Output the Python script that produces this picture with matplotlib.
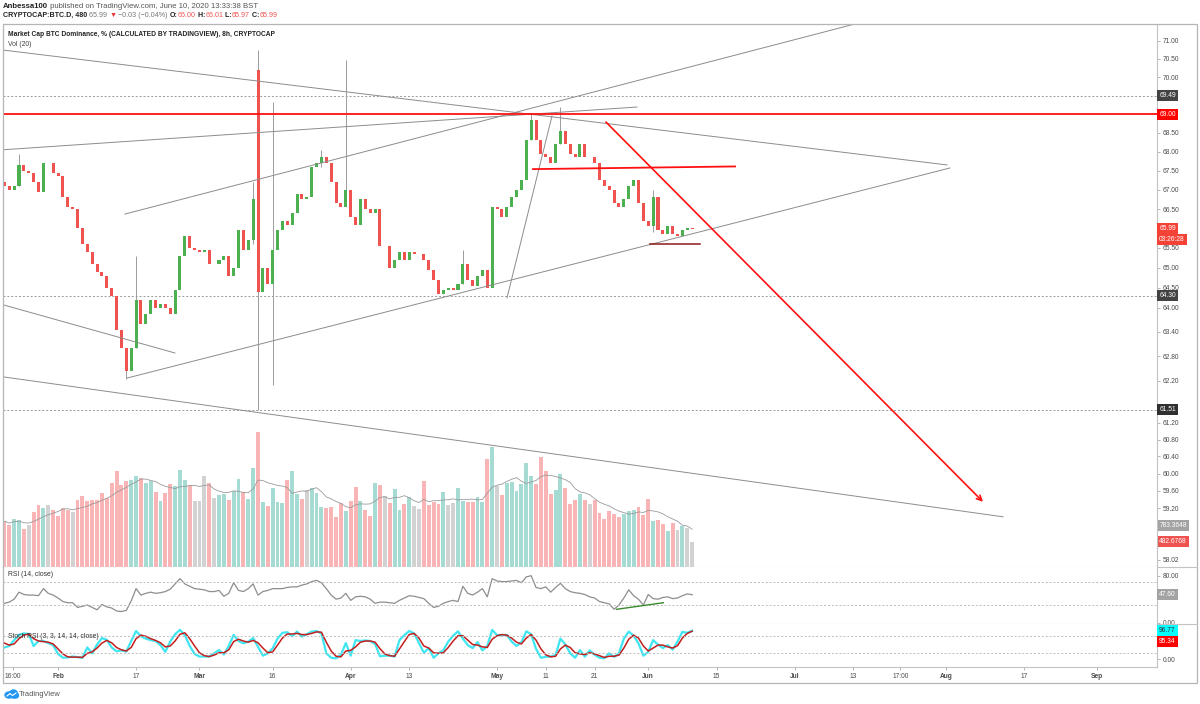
import numpy as np
import pandas as pd
import matplotlib
matplotlib.use('Agg')
import matplotlib.pyplot as plt
from matplotlib.lines import Line2D
from matplotlib.patches import Rectangle, Ellipse
from matplotlib.offsetbox import TextArea, HPacker, AnchoredOffsetbox
from matplotlib.ticker import FixedLocator, FixedFormatter, NullLocator

plt.rcParams['font.family'] = ['Liberation Sans', 'DejaVu Sans']

# ---- data (day index = days since 1 Jan 2020, one value per day from 21 Jan) ----
first_day = 20
first_open = 67.2
closes = [67.1, 67.0, 67.1, 67.65, 67.5, 67.45, 67.2, 66.95, 67.7, 67.7,
          67.45, 67.35, 66.8, 66.55, 66.5, 66.0, 65.6, 65.4, 65.1, 64.9,
          64.8, 64.5, 64.3, 63.45, 63.0, 62.45, 63.0, 64.2, 63.6, 63.85,
          64.2, 64.0, 64.1, 64.0, 63.85, 64.45, 65.3, 65.8, 65.5, 65.45,
          65.4, 65.45, 65.1, 65.1, 65.2, 65.3, 64.8, 65.0, 65.95, 65.45,
          65.7, 66.75, 64.4, 65.0, 64.6, 65.45, 65.95, 66.2, 66.1, 66.4,
          66.9, 66.75, 66.8, 67.6, 67.7, 67.85, 67.7, 67.2, 66.65, 66.55,
          67.0, 66.3, 66.1, 66.75, 66.5, 66.4, 66.5, 65.55, 65.55, 65.0,
          65.2, 65.4, 65.2, 65.4, 65.35, 65.35, 65.2, 64.95, 64.7, 64.35,
          64.45, 64.5, 64.45, 64.6, 65.1, 64.7, 64.55, 64.8, 64.95, 64.5,
          66.55, 66.5, 66.3, 66.55, 66.8, 67.0, 67.25, 68.3, 68.85, 68.3,
          67.95, 67.85, 67.7, 68.2, 68.55, 68.2, 67.95, 67.85, 68.2, 67.85,
          67.85, 67.7, 67.25, 67.1, 67.0, 66.65, 66.55, 66.75, 67.1, 67.25,
          66.65, 66.2, 66.05, 66.8, 65.95, 65.85, 66.05, 65.85, 65.8, 65.95,
          66.0, 65.99]
glitch_day, glitch_open = 72, 70.2

wick_day = [23, 45, 47, 71, 72, 75, 85, 90, 114, 128, 134, 153]
wick_hi = [67.95, 62.9, 65.3, 67.2, 70.74, 69.33, 68.05, 70.47, 65.45, 69.0, 69.19, 67.0]
wick_lo = [67.1, 62.25, 63.0, 65.6, 61.51, 62.1, 67.6, 66.9, 64.6, 68.3, 68.2, 65.9]

volume = [868, 804, 912, 899, 722, 804, 1039, 1184, 1121, 1184,
          1089, 963, 1121, 1089, 1039, 1279, 1343, 1248, 1279, 1279,
          1406, 1311, 1596, 1818, 1564, 1628, 1659, 1735, 1691, 1596,
          1640, 1419, 1248, 1406, 1583, 1533, 1849, 1659, 1564, 1260,
          1260, 1723, 1596, 1311, 1374, 1387, 1279, 1450, 1678, 1419,
          1292, 1881, 2559, 1229, 1153, 1501, 1229, 1216, 1659, 1818,
          1393, 1298, 1469, 1501, 1406, 1134, 1121, 1134, 944, 1216,
          1070, 1260, 1520, 1260, 1089, 975, 1596, 1552, 1355, 1216,
          1482, 1089, 1197, 1324, 1153, 1108, 1640, 1172, 1229, 1197,
          1419, 1184, 1216, 1501, 1248, 1229, 1229, 1324, 1229, 2058,
          2280, 1533, 1362, 1596, 1609, 1450, 1583, 1976, 1723, 1577,
          2090, 1830, 1387, 1457, 1773, 1501, 1203, 1279, 1387, 1267,
          1197, 1267, 1026, 918, 1058, 1013, 950, 1013, 1070, 1089,
          1134, 982, 1298, 868, 887, 817, 690, 836, 697, 773,
          740, 482]

rsi = [33, 35, 40, 52, 48, 47, 47, 46, 58, 50,
       47, 42, 36, 34, 34, 26, 28, 30, 26, 22,
       31, 27, 25, 20, 19, 21, 37, 58, 47, 50,
       52, 50, 51, 53, 57, 66, 75, 66, 62, 58,
       57, 56, 53, 53, 55, 45, 50, 68, 55, 53,
       58, 66, 47, 53, 55, 58, 58, 58, 60, 61,
       61, 64, 66, 70, 72, 68, 58, 47, 40, 42,
       50, 38, 44, 45, 44, 40, 33, 35, 35, 34,
       33, 38, 42, 46, 45, 43, 41, 33, 26, 28,
       33, 36, 38, 36, 62, 50, 47, 52, 58, 44,
       75, 71, 70, 70, 71, 72, 68, 78, 80, 60,
       58, 61, 52, 60, 67, 58, 53, 51, 50, 48,
       44, 42, 36, 34, 32, 23, 30, 42, 56, 46,
       40, 30, 48, 41, 40, 43, 44, 41, 42, 46,
       49, 47.6]

stoch_k = [40, 45, 65, 83, 88, 86, 45, 62, 62, 55,
           48, 18, 5, 6, 9, 7, 5, 40, 20, 50,
           72, 66, 40, 27, 30, 26, 62, 96, 78, 70,
           65, 62, 48, 25, 60, 85, 100, 82, 45, 18,
           9, 9, 9, 20, 31, 16, 45, 83, 62, 54,
           60, 72, 42, 12, 20, 37, 70, 90, 92, 78,
           94, 77, 85, 94, 96, 88, 20, 5, 3, 15,
           55, 12, 65, 62, 64, 62, 52, 10, 12, 12,
           9, 65, 82, 96, 88, 55, 22, 38, 5, 20,
           31, 60, 80, 95, 70, 48, 38, 58, 30, 45,
           100, 82, 82, 83, 60, 45, 58, 95, 85, 35,
           5, 8, 9, 14, 70, 50, 20, 5, 31, 9,
           30, 15, 5, 3, 20, 8, 20, 70, 94, 80,
           54, 12, 25, 65, 50, 38, 48, 33, 60, 93,
           90, 96.77]

stoch_d = [55, 48, 52, 70, 82, 86, 70, 62, 60, 58,
           52, 35, 18, 8, 7, 7, 6, 20, 25, 38,
           55, 64, 56, 40, 32, 28, 40, 70, 82, 78,
           70, 64, 56, 42, 45, 62, 85, 90, 70, 45,
           22, 12, 9, 14, 22, 22, 32, 60, 68, 62,
           58, 64, 56, 38, 22, 25, 48, 72, 86, 86,
           88, 84, 84, 88, 93, 92, 58, 28, 10, 8,
           28, 30, 42, 58, 62, 62, 58, 36, 18, 12,
           10, 35, 60, 84, 88, 72, 45, 38, 22, 20,
           22, 40, 62, 80, 80, 65, 50, 48, 42, 40,
           68, 80, 84, 82, 72, 58, 52, 72, 84, 65,
           35, 15, 8, 10, 35, 48, 40, 22, 18, 16,
           22, 18, 12, 6, 10, 10, 14, 38, 68, 82,
           72, 45, 28, 38, 48, 48, 42, 38, 46, 72,
           88, 95.34]

# drawings (day, price)
gray_lines = [((19.72, 70.74), (213.24, 67.65)),
              ((45.14, 62.27), (213.86, 67.57)),
              ((44.73, 66.37), (197.46, 71.57)),
              ((19.72, 68.05), (149.69, 69.19)),
              ((19.72, 64.07), (54.98, 62.88)),
              ((19.72, 62.30), (224.73, 59.00)),
              ((123.04, 64.24), (132.27, 68.95))]
red_level = 69.00
red_segment = ((128.38, 67.54), (169.8, 67.61))
dark_segment = ((152.36, 65.60), (162.6, 65.60))
red_arrow = ((142.93, 68.84), (221.03, 59.30))
dotted_levels = [69.49, 64.30, 61.51]
rsi_divergence = ((145.5, 22.8), (155.1, 34.0))

price_ticks = [58.02, 59.20, 59.60, 60.00, 60.40, 60.80, 61.20,
               62.20, 62.80, 63.40, 64.00, 64.50, 65.00, 65.50, 66.50, 67.00,
               67.50, 68.00, 68.50, 70.00, 70.50, 71.00]
tick_days = [21.67, 31, 47, 60, 75, 91, 103, 121, 131, 141, 152, 166, 182, 194, 203.7, 213, 229, 244]
tick_text = ['16:00', 'Feb', '17', 'Mar', '16', 'Apr', '13', 'May', '11', '21', 'Jun',
             '15', 'Jul', '13', '17:00', 'Aug', '17', 'Sep']
month_names = ['Feb', 'Mar', 'Apr', 'May', 'Jun', 'Jul', 'Aug', 'Sep']

# ---- figure ----
W, H = 1200, 704
fig = plt.figure(figsize=(12, 7.04), dpi=100)

def fx(px):
    return px / W

def fy(py):
    return 1 - py / H

GREEN = '#4caf50'
RED = '#ef5350'
GRID = '#c3c3c3'
TXT = '#4a4a4a'
FS = 4.8

left, width = fx(3), fx(1157) - fx(3)
ax_vol = fig.add_axes([left, fy(567), width, fy(24) - fy(567)])
ax = fig.add_axes([left, fy(567), width, fy(24) - fy(567)], sharex=ax_vol)
ax_rsi = fig.add_axes([left, fy(624), width, fy(567) - fy(624)], sharex=ax_vol)
ax_st = fig.add_axes([left, fy(667), width, fy(624) - fy(667)], sharex=ax_vol)

days = np.arange(first_day, first_day + len(closes))
closes = np.array(closes)
opens = np.r_[first_open, closes[:-1]]
opens[days == glitch_day] = glitch_open
up = closes >= opens

# volume (behind price)
vol = np.array(volume)
vol_col = np.where(np.abs(closes - opens) < 0.08, '#d2d2d2', np.where(up, '#a6dbd3', '#f9b5b5'))
ax_vol.bar(days, vol, width=0.8, color=vol_col, linewidth=0)
vol_ma = pd.Series(vol).rolling(7, min_periods=1).mean()
ax_vol.plot(days, vol_ma, color='#9a9a9a', lw=0.6)
ax_vol.set_ylim(0, 543 * 19)
ax_vol.tick_params(bottom=False, labelbottom=False, left=False, labelleft=False)
for s in ax_vol.spines.values():
    s.set_visible(False)

# price candles
ax.set_facecolor('none')
ax.set_yscale('log')
ax.vlines(wick_day, wick_lo, wick_hi, color='#9c9c9c', lw=0.7, zorder=2)
ax.bar(days[up], (closes - opens)[up], bottom=opens[up], width=0.62, color=GREEN, linewidth=0, zorder=3)
ax.bar(days[~up], (closes - opens)[~up], bottom=opens[~up], width=0.62, color=RED, linewidth=0, zorder=3)

for (x0, y0), (x1, y1) in gray_lines:
    ax.plot([x0, x1], [y0, y1], color='#8c8c8c', lw=0.7, zorder=4)
for lv in dotted_levels:
    ax.axhline(lv, color='#9a9a9a', lw=0.7, ls=(0, (2, 2)), zorder=1)
ax.axhline(red_level, color='#ff1010', lw=1.3, zorder=5)
ax.plot(*zip(*red_segment), color='#ff1010', lw=1.3, zorder=5)
ax.plot(*zip(*dark_segment), color='#8b1a1a', lw=1.1, zorder=5)
ax.annotate('', xy=red_arrow[1], xytext=red_arrow[0],
            arrowprops=dict(arrowstyle='->', color='#ff1010', lw=1.2, mutation_scale=9), zorder=5)

ax.set_xlim(19.72, 256.3)
ax.set_ylim(57.86, 71.46)
ax.yaxis.tick_right()
ax.yaxis.set_major_locator(FixedLocator(price_ticks))
ax.yaxis.set_major_formatter(FixedFormatter(['%.2f' % p for p in price_ticks]))
ax.yaxis.set_minor_locator(NullLocator())
ax.tick_params(axis='y', labelsize=FS, colors=TXT, length=2, width=0.5, pad=2)
ax.tick_params(axis='y', color='#999999')
ax.tick_params(axis='x', bottom=False, labelbottom=False)

# RSI
ax_rsi.plot(days, rsi, color='#8e8e8e', lw=0.9)
for lv in (70, 30):
    ax_rsi.axhline(lv, color='#bdbdbd', lw=0.7, ls=(0, (2, 2)))
ax_rsi.plot(*zip(*rsi_divergence), color='#3a8a2e', lw=1.0)
ax_rsi.set_ylim(-2.2, 94.8)
ax_rsi.yaxis.tick_right()
ax_rsi.set_yticks([0, 80])
ax_rsi.set_yticklabels(['0.00', '80.00'])
ax_rsi.tick_params(axis='y', labelsize=FS, colors=TXT, length=2, width=0.5, pad=2, color='#999999')
ax_rsi.tick_params(axis='x', bottom=False, labelbottom=False)

# Stoch RSI
ax_st.plot(days, stoch_k, color='#3ee6f2', lw=1.6)
ax_st.plot(days, stoch_d, color='#c41e1e', lw=1.1)
for lv in (80, 20):
    ax_st.axhline(lv, color='#bdbdbd', lw=0.7, ls=(0, (2, 2)))
ax_st.set_ylim(-26.6, 120)
ax_st.yaxis.tick_right()
ax_st.set_yticks([0])
ax_st.set_yticklabels(['0.00'])
ax_st.tick_params(axis='y', labelsize=FS, colors=TXT, length=2, width=0.5, pad=2, color='#999999')
ax_st.set_xticks(tick_days)
ax_st.set_xticklabels(tick_text)
ax_st.tick_params(axis='x', labelsize=FS, colors=TXT, length=2.5, width=0.5, pad=1.5, color='#999999')
for lab in ax_st.get_xticklabels():
    if lab.get_text() in month_names:
        lab.set_fontweight('bold')

for a in (ax, ax_rsi, ax_st):
    a.spines['left'].set_visible(False)
    a.spines['top'].set_visible(False)
    for side in ('right', 'bottom'):
        a.spines[side].set_color(GRID)
        a.spines[side].set_linewidth(0.8)
ax_vol.tick_params(axis='x', bottom=False, labelbottom=False)

# outer frame and separators
fig.add_artist(Rectangle((fx(3), fy(683)), fx(1197) - fx(3), fy(24) - fy(683), transform=fig.transFigure,
                         fill=False, ec='#b5b5b5', lw=0.9))
for py in (567, 624):
    fig.add_artist(Line2D([fx(1157), fx(1197)], [fy(py), fy(py)], transform=fig.transFigure, color=GRID, lw=0.8))

# right scale tags
def tag(a, val, txt, fc, tc='white', dy=0):
    a.annotate(txt, xy=(1, val), xycoords=a.get_yaxis_transform(), xytext=(1.6, dy),
               textcoords='offset points', ha='left', va='center', fontsize=FS, color=tc,
               bbox=dict(boxstyle='square,pad=0.3', fc=fc, ec='none'), annotation_clip=False, zorder=20)

tag(ax, 69.49, '69.49', '#434343')
tag(ax, 69.00, '69.00', '#ff0000')
tag(ax, 65.99, '65.99', '#f44336')
tag(ax, 65.99, '03:26:28', '#f44336', dy=-7.6)
tag(ax, 64.30, '64.30', '#434343')
tag(ax, 61.51, '61.51', '#2f2f2f')
tag(ax_vol, 783.3648, '783.3648', '#a3a3a3')
tag(ax_vol, 482.6768, '482.6768', '#ef5350')
tag(ax_rsi, 47.60, '47.60', '#a3a3a3')
tag(ax_st, 96.77, '96.77', '#00ffff', tc='#333333')
tag(ax_st, 95.34, '95.34', '#ff0000', dy=-7.2)

# headers
def text_line(parts, x, y, size):
    boxes = [TextArea(t, textprops=dict(color=c, fontsize=size, fontweight=w)) for t, c, w in parts]
    pack = HPacker(children=boxes, align='baseline', pad=0, sep=0)
    fig.add_artist(AnchoredOffsetbox(loc='center left', child=pack, pad=0, borderpad=0, frameon=False,
                                     bbox_to_anchor=(x, y), bbox_transform=fig.transFigure))

text_line([('Anbessa100', '#222222', 'bold'),
           (' published on TradingView.com, June 10, 2020 13:33:38 BST', '#555555', 'normal')],
          fx(3), fy(6), 5.6)
text_line([('CRYPTOCAP:BTC.D, 480', '#222222', 'bold'),
           (' 65.99 ', '#777777', 'normal'), ('\u25bc', '#e53935', 'normal'),
           (' \u22120.03 (\u22120.04%) ', '#777777', 'normal'),
           ('O:', '#222222', 'bold'), ('66.00', RED, 'normal'),
           (' H:', '#222222', 'bold'), ('66.01', RED, 'normal'),
           (' L:', '#222222', 'bold'), ('65.97', RED, 'normal'),
           (' C:', '#222222', 'bold'), ('65.99', RED, 'normal')],
          fx(3), fy(15.5), 5.1)

fig.text(fx(8), fy(34), 'Market Cap BTC Dominance, % (CALCULATED BY TRADINGVIEW), 8h, CRYPTOCAP',
         fontsize=4.75, fontweight='bold', color='#222222', va='center')
fig.text(fx(8), fy(45), 'Vol (20)', fontsize=4.9, color='#444444', va='center')
fig.text(fx(8), fy(575), 'RSI (14, close)', fontsize=4.9, color='#333333', va='center')
fig.text(fx(8), fy(636), 'Stoch RSI (3, 3, 14, 14, close)', fontsize=4.9, color='#333333', va='center')

# TradingView logo
logo = fig.add_axes([fx(4), fy(699), fx(15), fy(689) - fy(699)])
logo.set_xlim(0, 15)
logo.set_ylim(0, 10)
logo.axis('off')
logo.add_patch(Ellipse((5, 4), 8, 6, color='#2196f3'))
logo.add_patch(Ellipse((9.5, 5), 8, 8, color='#2196f3'))
logo.add_patch(Ellipse((11.5, 3.5), 6, 5, color='#2196f3'))
logo.plot([3, 6, 8.5, 12], [3, 5.5, 3.5, 6], color='white', lw=0.8)
fig.text(fx(19), fy(694), 'TradingView', fontsize=5.4, color='#555555', va='center')

fig.savefig('out.png', dpi=100)
